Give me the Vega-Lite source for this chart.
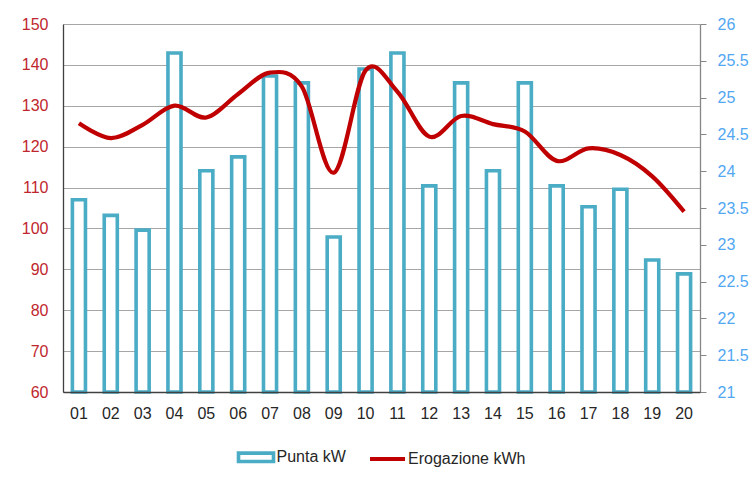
{
  "$schema": "https://vega.github.io/schema/vega-lite/v6.json",
  "width": 637,
  "height": 368,
  "autosize": {"type": "none"},
  "padding": {"left": 63, "top": 24, "right": 55, "bottom": 89},
  "background": "white",
  "config": {"font": "Liberation Sans", "view": {"stroke": null}},
  "data": {"values": [
    {"giorno": "01", "punta": 107.0, "erog": 24.65},
    {"giorno": "02", "punta": 103.2, "erog": 24.45},
    {"giorno": "03", "punta": 99.6, "erog": 24.63},
    {"giorno": "04", "punta": 142.9, "erog": 24.89},
    {"giorno": "05", "punta": 114.1, "erog": 24.73},
    {"giorno": "06", "punta": 117.5, "erog": 25.05},
    {"giorno": "07", "punta": 137.3, "erog": 25.34},
    {"giorno": "08", "punta": 135.6, "erog": 25.15},
    {"giorno": "09", "punta": 97.9, "erog": 23.98},
    {"giorno": "10", "punta": 139.0, "erog": 25.37},
    {"giorno": "11", "punta": 142.9, "erog": 25.08},
    {"giorno": "12", "punta": 110.4, "erog": 24.47},
    {"giorno": "13", "punta": 135.6, "erog": 24.75},
    {"giorno": "14", "punta": 114.1, "erog": 24.64},
    {"giorno": "15", "punta": 135.6, "erog": 24.54},
    {"giorno": "16", "punta": 110.4, "erog": 24.14},
    {"giorno": "17", "punta": 105.3, "erog": 24.31},
    {"giorno": "18", "punta": 109.6, "erog": 24.22},
    {"giorno": "19", "punta": 92.3, "erog": 23.93},
    {"giorno": "20", "punta": 88.9, "erog": 23.45}
  ]},
  "encoding": {
    "x": {
      "field": "giorno", "type": "ordinal",
      "scale": {"paddingInner": 0.59},
      "axis": {"title": null, "labelAngle": 0, "ticks": false, "grid": false, "domainColor": "#404040", "domainWidth": 1.3, "labelColor": "#262626", "labelFontSize": 16, "labelPadding": 13, "zindex": 1}
    }
  },
  "layer": [
    {
      "mark": {"type": "bar", "fill": "white", "strokeWidth": 3.6},
      "encoding": {
        "y": {
          "field": "punta", "type": "quantitative",
          "scale": {"domain": [60, 150], "zero": false, "nice": false},
          "axis": {"title": null, "values": [60, 70, 80, 90, 100, 110, 120, 130, 140, 150], "grid": true, "gridColor": "#A6A6A6", "ticks": false, "domainColor": "#404040", "domainWidth": 1.3, "labelColor": "#C0262D", "labelFontSize": 16, "labelPadding": 15}
        },
        "y2": {"datum": 60},
        "stroke": {
          "datum": "Punta kW",
          "scale": {"domain": ["Punta kW", "Erogazione kWh"], "range": ["#4BACC6", "#C00000"]},
          "legend": {
            "title": null, "orient": "none", "direction": "horizontal",
            "legendX": 185, "legendY": 425,
            "symbolSize": 1225, "labelFontSize": 16, "labelColor": "#262626", "labelOffset": 12.5, "columnPadding": 15.5,
            "symbolType": {"expr": "datum.value === 'Punta kW' ? 'M-1,-0.24H1V0.24H-1Z' : 'M-1,0H1'"},
            "symbolStrokeWidth": {"expr": "datum.value === 'Punta kW' ? 3.6 : 4"},
            "symbolFillColor": "white"
          }
        }
      }
    },
    {
      "mark": {"type": "line", "interpolate": "cardinal", "strokeWidth": 4.2},
      "encoding": {
        "y": {
          "field": "erog", "type": "quantitative",
          "scale": {"domain": [21, 26], "zero": false, "nice": false},
          "axis": {"orient": "right", "title": null, "values": [21, 21.5, 22, 22.5, 23, 23.5, 24, 24.5, 25, 25.5, 26], "format": ".1~f", "grid": false, "ticks": true, "tickSize": 6, "tickColor": "#868686", "domainColor": "#868686", "domainWidth": 1.3, "labelColor": "#52A7F2", "labelFontSize": 16, "labelPadding": 11}
        },
        "stroke": {"datum": "Erogazione kWh"}
      }
    }
  ],
  "resolve": {"scale": {"y": "independent"}}
}
